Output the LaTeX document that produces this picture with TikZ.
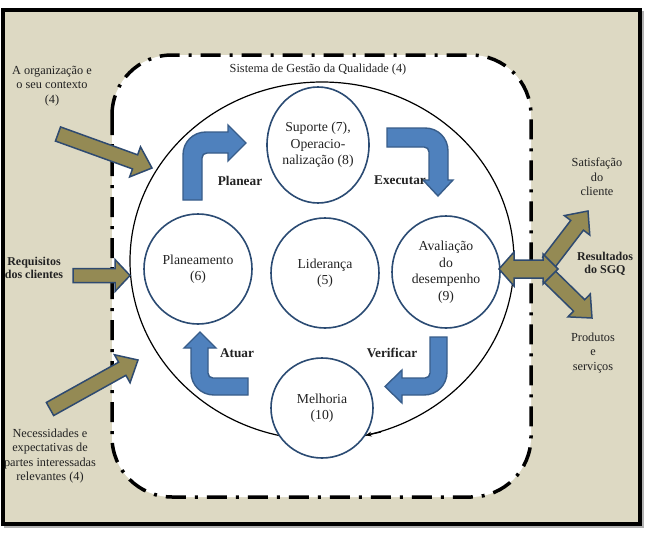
\documentclass[tikz,border=0pt]{standalone}
\usepackage{fontspec}
\setmainfont{Liberation Serif}
\usetikzlibrary{shapes.geometric,calc,arrows.meta}
\definecolor{bgbeige}{HTML}{DDD9C3}
\definecolor{ofill}{HTML}{948A54}
\definecolor{oline}{HTML}{2E4A70}
\definecolor{bfill}{HTML}{4F81BD}
\definecolor{bline}{HTML}{385D8A}
\definecolor{circline}{HTML}{2B4B73}
\definecolor{txt}{HTML}{222222}
\newcommand{\olivearr}[5]{%
  \coordinate (Q) at ($(#2)!#5!(#1)$);
  \filldraw[oarrow] ($(#1)!#3!90:(#2)$) -- ($(Q)!#3!90:(#2)$) -- ($(Q)!#4!90:(#2)$) -- (#2)
    -- ($(Q)!#4!-90:(#2)$) -- ($(Q)!#3!-90:(#2)$) -- ($(#1)!#3!-90:(#2)$) -- cycle;}
\tikzset{
  oarrow/.style={fill=ofill, draw=oline, line width=1.5pt, line join=miter},
  barrow/.style={fill=bfill, draw=bline, line width=1.4pt, line join=miter},
  cbox/.style={ellipse, draw=circline, line width=1.6pt, fill=white, inner sep=0pt, align=center,
    font=\fontsize{13.7}{16.5}\selectfont, text=txt},
  lbl/.style={align=center, font=\fontsize{12.3}{14.5}\selectfont, text=txt, inner sep=0pt},
  blbl/.style={align=center, font=\bfseries\fontsize{12}{13.5}\selectfont, text=txt, inner sep=0pt},
  plbl/.style={align=center, font=\bfseries\fontsize{13.3}{15}\selectfont, text=txt, inner sep=0pt},
}
\begin{document}
\begin{tikzpicture}[x=1pt,y=-1pt]
\useasboundingbox (0,0) rectangle (648,538);
% outer frame
\draw[gray!60, line width=3pt] (5,12) rectangle (642,526);
\filldraw[fill=bgbeige, draw=black, line width=3.5pt] (3,10) rectangle (640,524);
% system boundary
\filldraw[fill=white, draw=black, line width=3.5pt, rounded corners=60pt,
  dash pattern=on 20pt off 9pt on 3pt off 9pt] (112,55) rectangle (531,497);
\node[lbl] (title) at (318,70) {Sistema de Gestão da Qualidade (4)};
% big cycle
\node[ellipse, draw=black, line width=1.2pt, minimum width=384pt, minimum height=358pt, inner sep=0pt] (big) at (322,261) {};
% inner circles
\node[cbox, minimum width=102pt, minimum height=116pt] (sup) at (318,145) {Suporte (7),\\Operacio-\\nalização (8)};
\node[cbox, minimum width=108pt, minimum height=110pt] (plan) at (198,269) {Planeamento\\(6)};
\node[cbox, minimum width=108pt, minimum height=110pt] (lid) at (325,273) {Liderança\\(5)};
\node[cbox, minimum width=108pt, minimum height=112pt] (aval) at (446,272) {Avaliação\\do\\desempenho\\(9)};
\node[cbox, minimum width=102pt, minimum height=100pt] (mel) at (322,408) {Melhoria\\(10)};
\coordinate (ah) at (381,432);
\draw[black, line width=1.2pt, -{Stealth[length=6pt,width=5pt]}] (ah) -- (mel.-32);
% blue PDCA arrows
\filldraw[barrow] (183,200) -- (183,155) .. controls (183,142) and (193,132) .. (206,132) -- (228,132) -- (228,125)
  -- (246,143) -- (228,161) -- (228,153) -- (207,153) .. controls (204,153) and (202,155) .. (202,158) -- (202,200) -- cycle;
\filldraw[barrow] (387,128) -- (425,128) .. controls (438,128) and (448,138) .. (448,151) -- (448,180) -- (453,180)
  -- (438,196) -- (423,180) -- (429,180) -- (429,152) .. controls (429,149) and (427,147) .. (424,147) -- (387,147) -- cycle;
\filldraw[barrow] (248,378) -- (213,378) .. controls (210,378) and (208,376) .. (208,373) -- (208,348) -- (216,348)
  -- (200,332) -- (184,348) -- (191,348) -- (191,372) .. controls (191,385) and (201,395) .. (214,395) -- (248,395) -- cycle;
\filldraw[barrow] (430,337) -- (447,337) -- (447,372) .. controls (447,385) and (437,395) .. (424,395) -- (402,395)
  -- (402,403) -- (385,386.5) -- (402,370) -- (402,378) -- (425,378) .. controls (428,378) and (430,376) .. (430,373) -- cycle;
\node[plbl] (planear) at (240,181) {Planear};
\node[plbl] (executar) at (400,180) {Executar};
\node[plbl] (atuar) at (237,353) {Atuar};
\node[plbl] (verificar) at (392,353) {Verificar};
% olive input arrows
\coordinate (o1t) at (58,134); \coordinate (o1h) at (152,168);
\olivearr{o1t}{o1h}{7.5pt}{16pt}{18pt}
\coordinate (o2t) at (73,275.5); \coordinate (o2h) at (130,275.5);
\olivearr{o2t}{o2h}{7pt}{16pt}{15pt}
\coordinate (o3t) at (50,409); \coordinate (o3h) at (138,360);
\olivearr{o3t}{o3h}{7.5pt}{16pt}{18pt}
% olive output arrows
\coordinate (o4t) at (549,262); \coordinate (o4h) at (588,211);
\olivearr{o4t}{o4h}{8pt}{16pt}{18pt}
\coordinate (o5t) at (549,276); \coordinate (o5h) at (592,318);
\olivearr{o5t}{o5h}{8pt}{16pt}{18pt}
\filldraw[oarrow] (499,269) -- (514,252) -- (514,260) -- (543,260) -- (543,254) -- (558,269)
  -- (543,284) -- (543,278) -- (514,278) -- (514,286) -- cycle;
% side labels
\node[lbl] (ctx) at (52,86) {A organização e\\o seu contexto\\(4)};
\node[blbl] (req) at (34,268) {Requisitos\\dos clientes};
\node[lbl] (nec) at (50,456) {Necessidades e\\expectativas de\\partes interessadas\\relevantes (4)};
\node[lbl] (sat) at (597,177) {Satisfação\\do\\cliente};
\node[blbl] (res) at (605,264) {Resultados\\do SGQ};
\node[lbl] (prod) at (593,353) {Produtos\\e\\serviços};
\end{tikzpicture}
\end{document}
